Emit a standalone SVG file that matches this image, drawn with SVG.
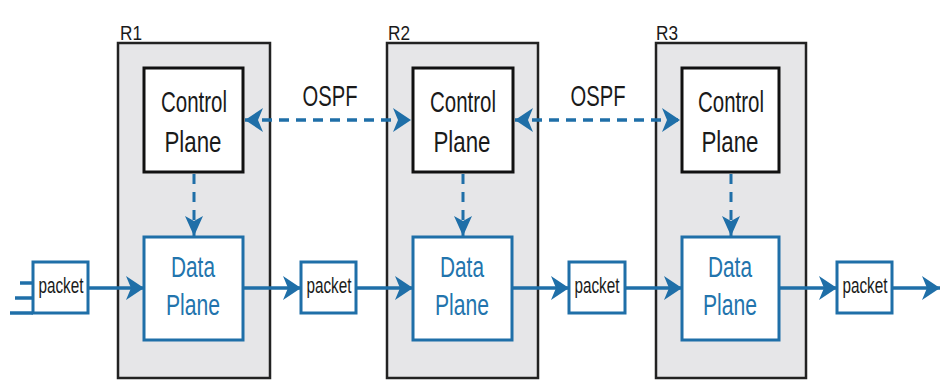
<svg xmlns="http://www.w3.org/2000/svg" width="940" height="380" viewBox="0 0 940 380">
<style>
.router{fill:#e6e6e8;stroke:#222;stroke-width:2.5}
.ctrl{fill:#fff;stroke:#111;stroke-width:3}
.data{fill:#fff;stroke:#1f6fa8;stroke-width:3}
.pkt{fill:#fff;stroke:#1f6fa8;stroke-width:3}
.t{font-family:"Liberation Sans",Arial,sans-serif;text-anchor:middle}
.big{font-size:29px}
.blk{fill:#1a1a1a}
.blu{fill:#2274ad}
.ps{font-size:22px;fill:#1a1a1a}
.lbl{font-family:"Liberation Sans",Arial,sans-serif;font-size:21px;fill:#1a1a1a}
.flow{stroke:#1f6fa8;stroke-width:3.5;fill:none}
.dash{stroke:#1f6fa8;stroke-width:3.5;fill:none;stroke-dasharray:10 7}
.vdash{stroke:#1f6fa8;stroke-width:3;fill:none;stroke-dasharray:10 8}
</style>
<defs>
<marker id="ah" markerUnits="userSpaceOnUse" markerWidth="20" markerHeight="24" refX="18" refY="12" orient="auto-start-reverse" viewBox="0 0 20 24">
<path d="M0,0 L18,12 L0,24 L5,12 Z" fill="#1f6fa8"/>
</marker>
<marker id="ahs" markerUnits="userSpaceOnUse" markerWidth="22" markerHeight="18" refX="20" refY="9" orient="auto" viewBox="0 0 22 18">
<path d="M0,0 L20,9 L0,18 L5,9 Z" fill="#1f6fa8"/>
</marker>
</defs>

<g id="R1">
<rect class="router" x="118" y="43" width="152" height="335"/>
<text class="lbl" x="120" y="40" textLength="22" lengthAdjust="spacingAndGlyphs">R1</text>
</g>
<g id="R2">
<rect class="router" x="387" y="43" width="151" height="335"/>
<text class="lbl" x="388" y="40" textLength="22" lengthAdjust="spacingAndGlyphs">R2</text>
</g>
<g id="R3">
<rect class="router" x="656" y="43" width="150" height="335"/>
<text class="lbl" x="656" y="40" textLength="22" lengthAdjust="spacingAndGlyphs">R3</text>
</g>

<g id="cp1">
<rect class="ctrl" x="144" y="68" width="99" height="104"/>
<text class="t big blk" x="194" y="112" textLength="66" lengthAdjust="spacingAndGlyphs">Control</text>
<text class="t big blk" x="193" y="152" textLength="57" lengthAdjust="spacingAndGlyphs">Plane</text>
</g>
<g id="cp2">
<rect class="ctrl" x="413" y="68" width="100" height="104"/>
<text class="t big blk" x="463" y="112" textLength="66" lengthAdjust="spacingAndGlyphs">Control</text>
<text class="t big blk" x="462" y="152" textLength="57" lengthAdjust="spacingAndGlyphs">Plane</text>
</g>
<g id="cp3">
<rect class="ctrl" x="682" y="68" width="97" height="104"/>
<text class="t big blk" x="731" y="112" textLength="66" lengthAdjust="spacingAndGlyphs">Control</text>
<text class="t big blk" x="730" y="152" textLength="57" lengthAdjust="spacingAndGlyphs">Plane</text>
</g>

<g id="dp1">
<rect class="data" x="144" y="237" width="99" height="103"/>
<text class="t big blu" x="193" y="277" textLength="44" lengthAdjust="spacingAndGlyphs">Data</text>
<text class="t big blu" x="193" y="315" textLength="54" lengthAdjust="spacingAndGlyphs">Plane</text>
</g>
<g id="dp2">
<rect class="data" x="413" y="237" width="99" height="103"/>
<text class="t big blu" x="462" y="277" textLength="44" lengthAdjust="spacingAndGlyphs">Data</text>
<text class="t big blu" x="462" y="315" textLength="54" lengthAdjust="spacingAndGlyphs">Plane</text>
</g>
<g id="dp3">
<rect class="data" x="682" y="237" width="97" height="103"/>
<text class="t big blu" x="730" y="277" textLength="44" lengthAdjust="spacingAndGlyphs">Data</text>
<text class="t big blu" x="730" y="315" textLength="54" lengthAdjust="spacingAndGlyphs">Plane</text>
</g>

<g id="pkt1">
<rect class="pkt" x="33" y="262" width="55" height="51"/>
<text class="t ps" x="61" y="293" textLength="45" lengthAdjust="spacingAndGlyphs">packet</text>
</g>
<g id="pkt2">
<rect class="pkt" x="301" y="262" width="55" height="51"/>
<text class="t ps" x="329" y="293" textLength="45" lengthAdjust="spacingAndGlyphs">packet</text>
</g>
<g id="pkt3">
<rect class="pkt" x="569" y="262" width="56" height="51"/>
<text class="t ps" x="597" y="293" textLength="45" lengthAdjust="spacingAndGlyphs">packet</text>
</g>
<g id="pkt4">
<rect class="pkt" x="837" y="262" width="55" height="51"/>
<text class="t ps" x="865" y="293" textLength="45" lengthAdjust="spacingAndGlyphs">packet</text>
</g>

<g id="ospf-labels">
<text class="t blk" x="330" y="106" font-size="30" textLength="55" lengthAdjust="spacingAndGlyphs">OSPF</text>
<text class="t blk" x="598" y="106" font-size="30" textLength="55" lengthAdjust="spacingAndGlyphs">OSPF</text>
</g>

<g id="connectors">
<line class="flow" x1="20" y1="283" x2="33" y2="283"/>
<line class="flow" x1="15" y1="298" x2="33" y2="298"/>
<line class="flow" x1="10" y1="313" x2="33" y2="313"/>
<line class="flow" x1="88" y1="288" x2="144" y2="288" marker-end="url(#ah)"/>
<line class="flow" x1="243" y1="288" x2="301" y2="288" marker-end="url(#ah)"/>
<line class="flow" x1="356" y1="288" x2="413" y2="288" marker-end="url(#ah)"/>
<line class="flow" x1="512" y1="288" x2="569" y2="288" marker-end="url(#ah)"/>
<line class="flow" x1="625" y1="288" x2="682" y2="288" marker-end="url(#ah)"/>
<line class="flow" x1="779" y1="288" x2="837" y2="288" marker-end="url(#ah)"/>
<line class="flow" x1="892" y1="288" x2="940" y2="288" marker-end="url(#ah)"/>
<line class="dash" x1="245" y1="120" x2="411" y2="120" marker-start="url(#ah)" marker-end="url(#ah)"/>
<line class="dash" x1="515" y1="120" x2="680" y2="120" marker-start="url(#ah)" marker-end="url(#ah)"/>
<line class="vdash" x1="194" y1="174" x2="194" y2="236" marker-end="url(#ahs)"/>
<line class="vdash" x1="463" y1="174" x2="463" y2="236" marker-end="url(#ahs)"/>
<line class="vdash" x1="731" y1="174" x2="731" y2="236" marker-end="url(#ahs)"/>
</g>
</svg>
